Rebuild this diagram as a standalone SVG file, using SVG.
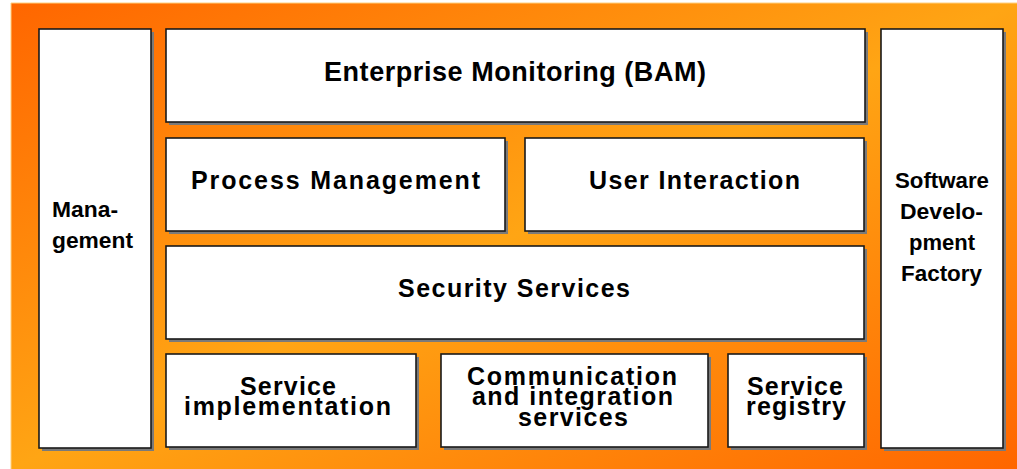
<svg xmlns="http://www.w3.org/2000/svg" width="1017" height="469" viewBox="0 0 1017 469">
<defs>
<linearGradient id="bg" x1="0" y1="0" x2="1" y2="1">
<stop offset="0" stop-color="#FF6600"/>
<stop offset="0.5" stop-color="#FFA514"/>
<stop offset="1" stop-color="#FF6600"/>
</linearGradient>
<style>
.box{fill:#FFFFFF;stroke:#1a1a1a;stroke-width:1.6}
.sh{fill:#7a7a7a}
.t{font-family:"Liberation Sans",Arial,sans-serif;font-weight:bold;font-size:25px;fill:#000;text-anchor:middle}
.b{font-size:25px}
.e{font-size:27px}
.s{font-family:"Liberation Sans",Arial,sans-serif;font-weight:bold;font-size:22px;fill:#000;text-anchor:middle}
</style>
</defs>
<rect x="11" y="3" width="1006" height="466" fill="url(#bg)"/>
<line x1="11" y1="3" x2="1017" y2="3" stroke="#FFD080" stroke-width="1"/>
<line x1="11" y1="3" x2="11" y2="469" stroke="#FFD080" stroke-width="1"/>
<g id="management">
<rect class="sh" x="42" y="32" width="112" height="419"/>
<rect class="box" x="39" y="29" width="112" height="419"/>
<text class="s" x="85" y="217" textLength="66" lengthAdjust="spacingAndGlyphs">Mana-</text>
<text class="s" x="92.5" y="248" textLength="81" lengthAdjust="spacingAndGlyphs">gement</text>
</g>
<g id="enterprise-monitoring">
<rect class="sh" x="169" y="32" width="699" height="93"/>
<rect class="box" x="166" y="29" width="699" height="93"/>
<text class="t e" x="515" y="81" textLength="382" lengthAdjust="spacing">Enterprise Monitoring (BAM)</text>
</g>
<g id="process-management">
<rect class="sh" x="169" y="141" width="339" height="93"/>
<rect class="box" x="166" y="138" width="339" height="93"/>
<text class="t" x="335.5" y="189" textLength="289" lengthAdjust="spacing">Process Management</text>
</g>
<g id="user-interaction">
<rect class="sh" x="528" y="141" width="339" height="93"/>
<rect class="box" x="525" y="138" width="339" height="93"/>
<text class="t" x="694.5" y="189" textLength="211" lengthAdjust="spacing">User Interaction</text>
</g>
<g id="security-services">
<rect class="sh" x="169" y="249" width="698" height="93"/>
<rect class="box" x="166" y="246" width="698" height="93"/>
<text class="t" x="514" y="297" textLength="232" lengthAdjust="spacing">Security Services</text>
</g>
<g id="service-implementation">
<rect class="sh" x="169" y="357" width="250" height="93"/>
<rect class="box" x="166" y="354" width="250" height="93"/>
<text class="t b" x="288" y="395" textLength="96" lengthAdjust="spacing">Service</text>
<text class="t b" x="287.5" y="415" textLength="207" lengthAdjust="spacing">implementation</text>
</g>
<g id="communication">
<rect class="sh" x="444" y="357" width="267" height="93"/>
<rect class="box" x="441" y="354" width="267" height="93"/>
<text class="t b" x="572" y="385" textLength="210" lengthAdjust="spacing">Communication</text>
<text class="t b" x="572.5" y="405" textLength="201" lengthAdjust="spacing">and integration</text>
<text class="t b" x="573" y="426" textLength="110" lengthAdjust="spacing">services</text>
</g>
<g id="service-registry">
<rect class="sh" x="731" y="357" width="136" height="93"/>
<rect class="box" x="728" y="354" width="136" height="93"/>
<text class="t b" x="795" y="395" textLength="96" lengthAdjust="spacing">Service</text>
<text class="t b" x="796" y="415" textLength="100" lengthAdjust="spacing">registry</text>
</g>
<g id="software-development-factory">
<rect class="sh" x="884" y="32" width="122" height="419"/>
<rect class="box" x="881" y="29" width="122" height="419"/>
<text class="s" x="942" y="188" textLength="94" lengthAdjust="spacingAndGlyphs">Software</text>
<text class="s" x="941.5" y="219" textLength="83" lengthAdjust="spacingAndGlyphs">Develo-</text>
<text class="s" x="942" y="250" textLength="66" lengthAdjust="spacingAndGlyphs">pment</text>
<text class="s" x="941.5" y="281" textLength="81" lengthAdjust="spacingAndGlyphs">Factory</text>
</g>
<g id="connectors"/>
</svg>
